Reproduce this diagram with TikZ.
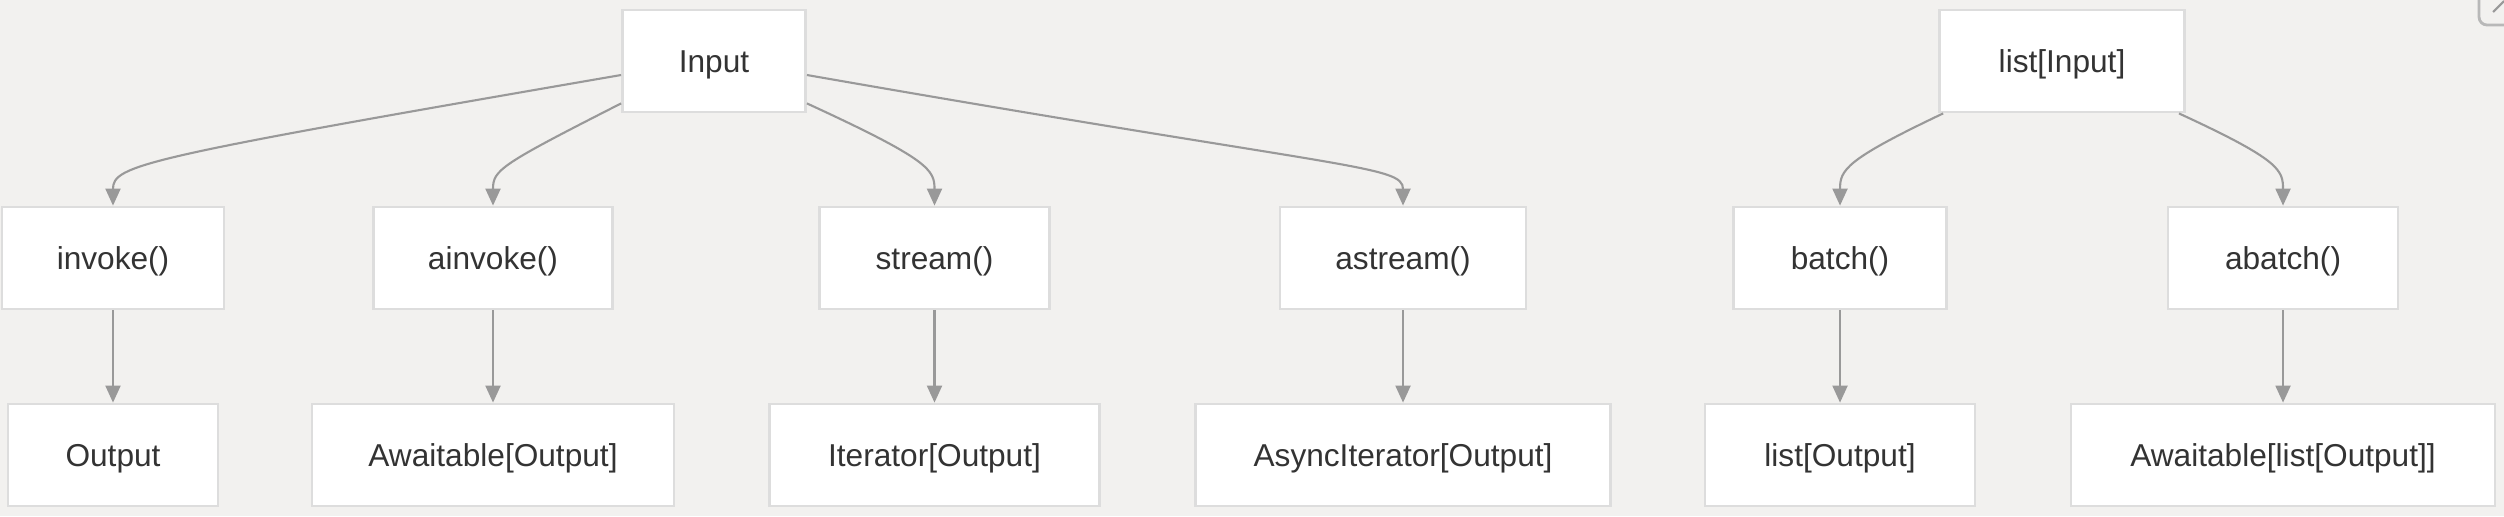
\documentclass[tikz,border=0pt]{standalone}
\usepackage{fontspec}
\setmainfont{Liberation Sans}
\usetikzlibrary{arrows.meta}
\definecolor{bgcol}{RGB}{242,241,239}
\definecolor{boxline}{RGB}{221,221,221}
\definecolor{edgecol}{RGB}{153,153,153}
\definecolor{txtcol}{RGB}{51,51,51}
\tikzset{
  box/.style={draw=boxline, line width=0.8pt, fill=white, minimum height=1.02cm,
    inner sep=0pt, text height=8pt, text depth=1.6pt, text=txtcol,
    font=\fontsize{9pt}{11pt}\selectfont},
  flow/.style={draw=edgecol, line width=0.6pt, -{Triangle[length=0.17cm,width=0.15cm]}}
}
\begin{document}
\begin{tikzpicture}
    % Background and page size
    \fill[bgcol] (0,0) rectangle (25.04,-5.16);
    \useasboundingbox (0,0) rectangle (25.04,-5.16);

    % Inputs
    \node[box, minimum width=1.83cm] (in) at (7.14,-0.61) {Input};
    \node[box, minimum width=2.45cm] (lin) at (20.62,-0.61) {list[Input]};

    % Methods
    \node[box, minimum width=2.22cm] (inv) at (1.13,-2.58) {invoke()};
    \node[box, minimum width=2.39cm] (ainv) at (4.93,-2.58) {ainvoke()};
    \node[box, minimum width=2.30cm] (str) at (9.345,-2.58) {stream()};
    \node[box, minimum width=2.46cm] (astr) at (14.03,-2.58) {astream()};
    \node[box, minimum width=2.13cm] (bat) at (18.40,-2.58) {batch()};
    \node[box, minimum width=2.30cm] (abat) at (22.83,-2.58) {abatch()};

    % Return types
    \node[box, minimum width=2.10cm] (out) at (1.13,-4.55) {Output};
    \node[box, minimum width=3.62cm] (aout) at (4.93,-4.55) {Awaitable[Output]};
    \node[box, minimum width=3.30cm] (iout) at (9.345,-4.55) {Iterator[Output]};
    \node[box, minimum width=4.15cm] (aiout) at (14.03,-4.55) {AsyncIterator[Output]};
    \node[box, minimum width=2.70cm] (lout) at (18.40,-4.55) {list[Output]};
    \node[box, minimum width=4.24cm] (alout) at (22.83,-4.55) {Awaitable[list[Output]]};

    % Input to the single-call methods
    \draw[flow] ([yshift=-0.14cm]in.west) .. controls (1.40,-1.58) and (1.13,-1.65) .. (inv.north);
    \draw[flow] ([yshift=0.1cm]in.south west) .. controls (5.00,-1.65) and (4.93,-1.70) .. (ainv.north);
    \draw[flow] ([yshift=0.1cm]in.south east) .. controls (9.30,-1.60) and (9.345,-1.70) .. (str.north);
    \draw[flow] ([yshift=-0.14cm]in.east) .. controls (13.50,-1.70) and (14.03,-1.65) .. (astr.north);

    % list[Input] to the batch methods
    \draw[flow] ([xshift=0.05cm]lin.south west) .. controls (18.45,-1.60) and (18.40,-1.70) .. (bat.north);
    \draw[flow] ([xshift=-0.07cm]lin.south east) .. controls (22.80,-1.60) and (22.83,-1.70) .. (abat.north);

    % Methods to return types
    \draw[flow] (inv.south) -- (out.north);
    \draw[flow] (ainv.south) -- (aout.north);
    \draw[flow] (str.south) -- (iout.north);
    \draw[flow] (astr.south) -- (aiout.north);
    \draw[flow] (bat.south) -- (lout.north);
    \draw[flow] (abat.south) -- (alout.north);

    % Corner button
    \draw[edgecol!70, line width=0.8pt, rounded corners=0.08cm] (24.79,-0.25) rectangle (25.40,0.2);
    \draw[edgecol, line width=0.6pt] (24.93,-0.12) -- (25.04,-0.01);
\end{tikzpicture}
\end{document}
